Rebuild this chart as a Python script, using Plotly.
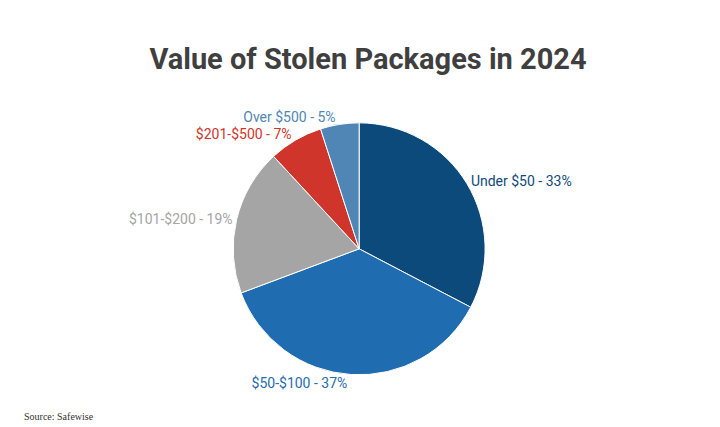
import plotly.graph_objects as go

labels = ["Under $50", "$50-$100", "$101-$200", "$201-$500", "Over $500"]
values = [33, 37, 19, 7, 5]
colors = ["#0d4a7c", "#1f6cb0", "#a5a5a5", "#d0352b", "#4f86b5"]
texts = [f"{l} - {v}%" for l, v in zip(labels, values)]

fig = go.Figure(go.Pie(
    labels=labels, values=values, text=texts, textinfo="text",
    textposition="outside", sort=False, direction="clockwise", rotation=0,
    marker=dict(colors=colors, line=dict(color="white", width=1)),
    outsidetextfont=dict(color=colors, size=14, family="Roboto"),
    showlegend=False, hoverinfo="skip",
    domain=dict(x=[0.219, 0.739], y=[0.141, 0.731]),
))
fig.update_layout(
    width=720, height=427, paper_bgcolor="white",
    margin=dict(l=0, r=0, t=0, b=0),
    title=dict(text="<b>Value of Stolen Packages in 2024</b>", x=0.5, xanchor="center",
               y=0.88, yanchor="middle", font=dict(family="Roboto", size=29, color="#3f3f3f")),
    annotations=[dict(text="Source: Safewise", x=0.003, y=0.025, xref="paper", yref="paper",
                      xanchor="left", yanchor="bottom", showarrow=False,
                      font=dict(family="Liberation Serif", size=10, color="#333"))],
)
fig.write_html("out.html")
